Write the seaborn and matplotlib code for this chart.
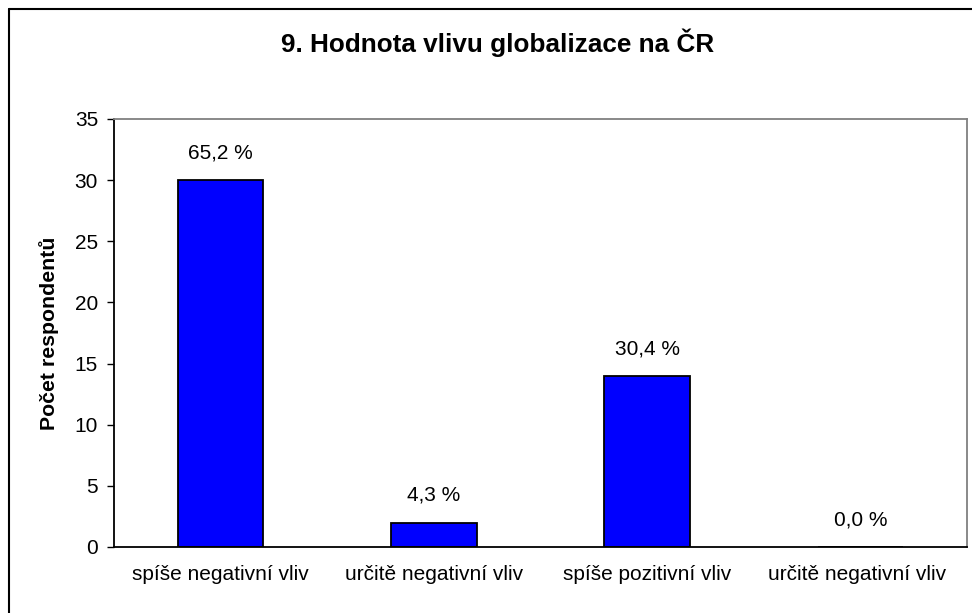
import matplotlib
matplotlib.use("Agg")
import matplotlib.pyplot as plt
import seaborn as sns
import pandas as pd
from matplotlib.lines import Line2D

categories = ["spíše negativní vliv", "určitě negativní vliv", "spíše pozitivní vliv", "určitě negativní vliv "]
values = [30, 2, 14, 0]
pct_labels = ["65,2 %", "4,3 %", "30,4 %", "0,0 %"]
yticks = [0, 5, 10, 15, 20, 25, 30, 35]

sns.set_style("white")
plt.rcParams['font.family'] = ['Liberation Sans', 'DejaVu Sans']

fig = plt.figure(figsize=(9.72, 6.13), dpi=100)
W, H = 972, 613
L, R, T, B = 114, 967, 119, 547
ax = fig.add_axes([L / W, 1 - B / H, (R - L) / W, (B - T) / H])

df = pd.DataFrame({"cat": categories, "val": values})
sns.barplot(data=df, x="cat", y="val", ax=ax, color="#0000FF", saturation=1,
            width=0.40, edgecolor="black", linewidth=1.3)

for i, (v, lab) in enumerate(zip(values, pct_labels)):
    ax.annotate(lab, (i, v), xytext=(0, 19.5), textcoords="offset points",
                ha="center", va="center", fontsize=15, color="black")

ax.set_xlim(-0.5, 3.5)
ax.set_ylim(0, 35)
ax.set_yticks(yticks)
ax.set_yticklabels([str(t) for t in yticks], fontsize=15, color="black")
ax.set_xticks([-0.5, 0.5, 1.5, 2.5, 3.5])
ax.set_xticklabels([])
ax.set_xticks(range(4), minor=True)
ax.set_xticklabels(categories, minor=True, fontsize=15, color="black")
ax.tick_params(axis="x", which="minor", length=0, pad=13)
ax.tick_params(axis="x", which="major", length=5, width=1, color="black", direction="out")
ax.tick_params(axis="y", length=5, width=1, color="black", direction="out", left=True, pad=6.5)
ax.set_xlabel("")
ax.set_ylabel("Počet respondentů", fontsize=15.3, fontweight="bold", labelpad=11, color="black")

for s in ["left", "bottom"]:
    ax.spines[s].set_color("black")
    ax.spines[s].set_linewidth(1.3)
for s in ["top", "right"]:
    ax.spines[s].set_visible(True)
    ax.spines[s].set_color("#808080")
    ax.spines[s].set_linewidth(1.3)

fig.text(497.5 / W, 1 - 43 / H, "9. Hodnota vlivu globalizace na ČR",
         ha="center", va="center", fontsize=18.8, fontweight="bold", color="black")

# outer chart border (left and top visible)
fig.add_artist(Line2D([9 / W, 9 / W], [0, 1 - 9 / H], transform=fig.transFigure, color="black", lw=1.5))
fig.add_artist(Line2D([9 / W, 1], [1 - 9 / H, 1 - 9 / H], transform=fig.transFigure, color="black", lw=1.5))

fig.savefig("out.png", dpi=100)
